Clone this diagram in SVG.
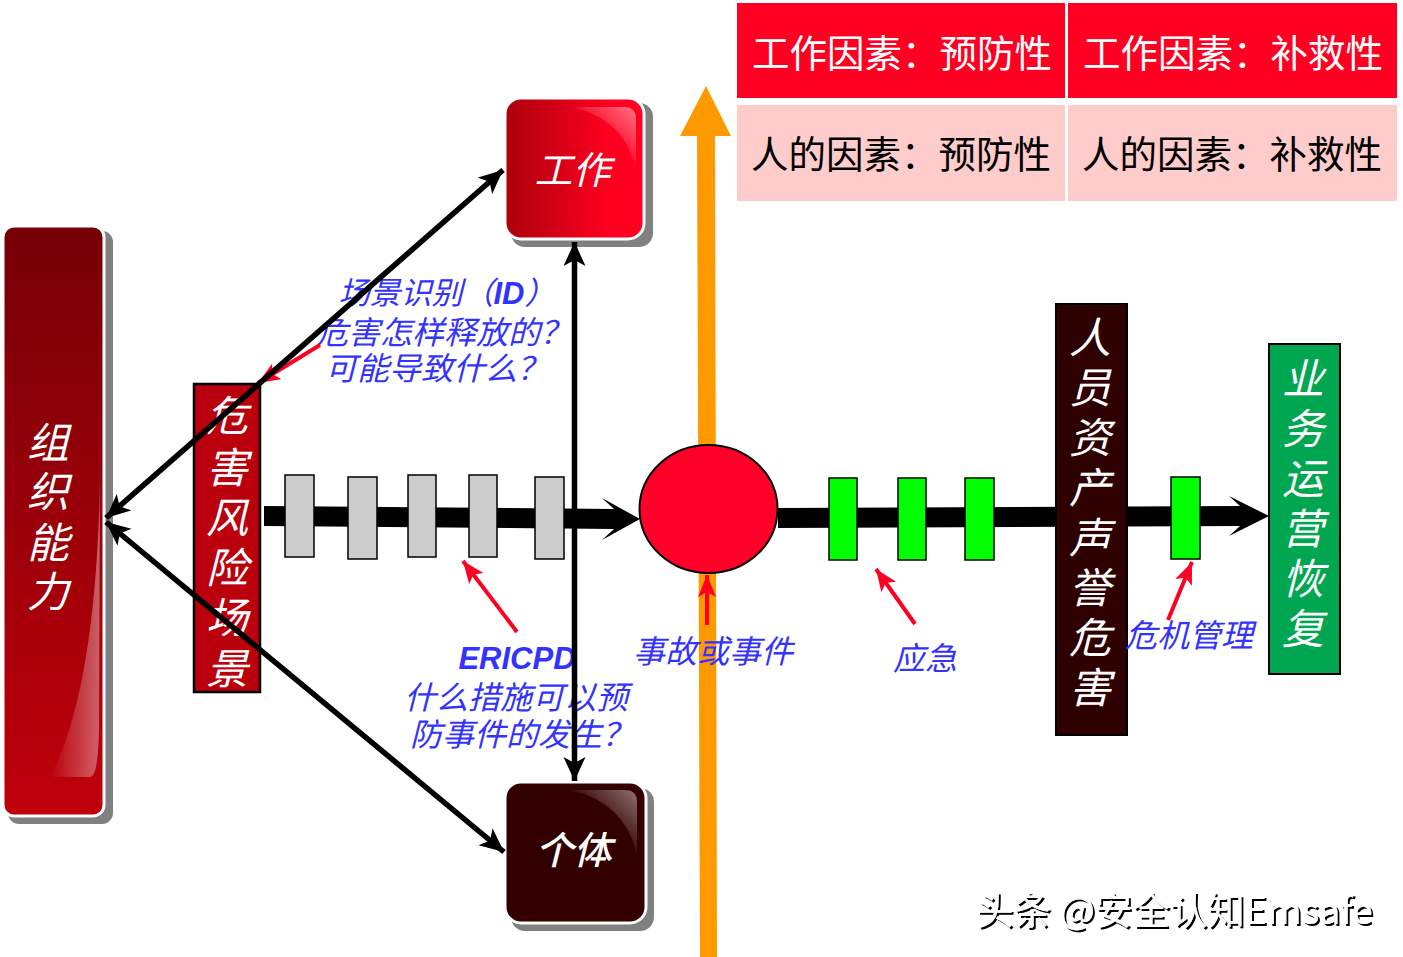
<svg xmlns="http://www.w3.org/2000/svg" width="1403" height="957" viewBox="0 0 1403 957">
<style>
text{font-family:"Noto Sans CJK SC","Noto Sans",sans-serif}
.v{fill:#fff;font-size:42px;font-style:italic;font-weight:400;text-anchor:middle}
.card{stroke:#fff;stroke-width:3}
.shadow{fill:#808080}
.gray{fill:#ccc;stroke:#000;stroke-width:1.5}
.green{fill:#0f0;stroke:#000;stroke-width:1.5}
.lab{fill:#33f;font-size:32px;font-style:italic;font-weight:400;text-anchor:middle}
.th{font-size:37.500px;font-weight:400;text-anchor:middle}
.k{stroke:#000;stroke-width:5.500;fill:none}
.r{stroke:#f02;stroke-width:4;fill:none;marker-end:url(#ra)}
</style>
<defs>
<linearGradient id="gv" x1="0" y1="0" x2="0" y2="1"><stop offset="0" stop-color="#750006"/><stop offset="1" stop-color="#c0000c"/></linearGradient>
<linearGradient id="gw" x1="0" y1="0" x2="1" y2="0"><stop offset=".05" stop-color="#b0000c"/><stop offset=".75" stop-color="#ff0020"/></linearGradient>
<linearGradient id="gs" x1="0" y1="1" x2="1" y2="0"><stop offset=".45" stop-color="#fff" stop-opacity="0"/><stop offset="1" stop-color="#fff" stop-opacity=".45"/></linearGradient>
<linearGradient id="gl" x1="0" y1="0" x2="1" y2="0"><stop offset="0" stop-color="#fff" stop-opacity="0"/><stop offset="1" stop-color="#fff" stop-opacity=".38"/></linearGradient>
<marker id="ka" markerUnits="userSpaceOnUse" markerWidth="28" markerHeight="24" refX="24" refY="11" orient="auto-start-reverse"><path d="M0,0L24,11L0,22L6,11Z" fill="#000"/></marker>
<marker id="ra" markerUnits="userSpaceOnUse" markerWidth="26" markerHeight="24" refX="22" refY="9" orient="auto"><path d="M0,0L22,9L0,18L5,9Z" fill="#f02"/></marker>
<filter id="emboss" x="-5%" y="-20%" width="110%" height="140%"><feOffset in="SourceAlpha" dx="1.500" dy="1.500" result="o"/><feFlood flood-color="#000"/><feComposite in2="o" operator="in"/><feMerge><feMergeNode/><feMergeNode in="SourceGraphic"/></feMerge></filter>
</defs>
<rect width="1403" height="957" fill="#fff"/>

<g id="connectors-back">
<polygon points="706,86 731,136 715,136 717,957 700,957 697,136 680,136" fill="#f90"/>
<polygon points="264,506 614,509 602,498 640,519 602,540 614,529 264,526" fill="#000"/>
<polygon points="778,508 1240,506 1229,496 1269,516 1229,536 1240,526 778,528" fill="#000"/>
</g>

<g id="table">
<rect x="737" y="3" width="328" height="95" fill="#ff0022"/>
<rect x="1068" y="3" width="329" height="95" fill="#ff0022"/>
<rect x="737" y="105" width="328" height="96" fill="#fcc"/>
<rect x="1068" y="105" width="329" height="96" fill="#fcc"/>
<text class="th" fill="#fff" x="902" y="67">工作因素：预防性</text>
<text class="th" fill="#fff" x="1233" y="67">工作因素：补救性</text>
<text class="th" fill="#000" x="901" y="168">人的因素：预防性</text>
<text class="th" fill="#000" x="1232" y="168">人的因素：补救性</text>
</g>

<g id="org">
<rect class="shadow" x="8" y="231" width="105" height="593" rx="11"/>
<rect class="card" x="3" y="226" width="101" height="590" rx="11" fill="url(#gv)"/>
<path d="M50,777H90Q98,777 99,730L100,480Q96,690 50,777Z" fill="url(#gl)"/>
<text class="v" x="48"><tspan x="48" y="458">组</tspan><tspan x="48" y="507">织</tspan><tspan x="48" y="558">能</tspan><tspan x="48" y="607">力</tspan></text>
</g>

<g id="scenario">
<rect x="194" y="384" width="66" height="308" fill="#bb000d" stroke="#000" stroke-width="2.500"/>
<text class="v" x="227"><tspan x="227" y="431">危</tspan><tspan x="227" y="483">害</tspan><tspan x="227" y="533">风</tspan><tspan x="227" y="583">险</tspan><tspan x="227" y="633">场</tspan><tspan x="227" y="684">景</tspan></text>
</g>

<g id="work">
<rect class="shadow" x="511" y="103" width="142" height="144" rx="14"/>
<rect class="card" x="505" y="98" width="139" height="141" rx="16" fill="url(#gw)"/>
<path d="M570,107H624Q636,107 636,119V170Q625,118 570,107Z" fill="url(#gs)"/>
<text x="572.500" y="184" fill="#fff" font-size="38" font-style="italic" font-weight="400" text-anchor="middle">工作</text>
</g>

<g id="person">
<rect class="shadow" x="511" y="788" width="143" height="143" rx="14"/>
<rect class="card" x="505" y="782" width="141" height="141" rx="16" fill="#300"/>
<path d="M570,790H625Q637,790 637,802V855Q625,802 570,790Z" fill="url(#gs)"/>
<text x="573.500" y="864" fill="#fff" font-size="38" font-style="italic" font-weight="500" text-anchor="middle">个体</text>
</g>

<g id="barriers">
<rect class="gray" x="285" y="475" width="29" height="82"/>
<rect class="gray" x="348" y="477" width="29" height="82"/>
<rect class="gray" x="408" y="475" width="28" height="82"/>
<rect class="gray" x="469" y="475" width="28" height="82"/>
<rect class="gray" x="535" y="477" width="29" height="82"/>
</g>

<g id="event"><ellipse cx="708.500" cy="509" rx="69" ry="64" fill="#ff0028" stroke="#000" stroke-width="2"/></g>

<g id="response">
<rect class="green" x="829" y="478" width="28" height="82"/>
<rect class="green" x="898" y="478" width="28" height="82"/>
<rect class="green" x="965" y="478" width="29" height="82"/>
<rect class="green" x="1171" y="477" width="29" height="82"/>
</g>

<g id="reputation">
<rect x="1056" y="304" width="71" height="431" fill="#2e0000" stroke="#000" stroke-width="2"/>
<text class="v" x="1090"><tspan x="1090" y="353">人</tspan><tspan x="1090" y="403">员</tspan><tspan x="1090" y="453">资</tspan><tspan x="1090" y="503">产</tspan><tspan x="1090" y="553">声</tspan><tspan x="1090" y="603">誉</tspan><tspan x="1090" y="653">危</tspan><tspan x="1090" y="703">害</tspan></text>
</g>

<g id="recovery">
<rect x="1269" y="344" width="71" height="330" fill="#00a650" stroke="#000" stroke-width="2"/>
<text class="v" x="1303"><tspan x="1303" y="394">业</tspan><tspan x="1303" y="444">务</tspan><tspan x="1303" y="494">运</tspan><tspan x="1303" y="544">营</tspan><tspan x="1303" y="594">恢</tspan><tspan x="1303" y="644">复</tspan></text>
</g>

<g id="labels">
<text class="lab" x="447" y="304" font-size="31" style="font-size:31px">场景识别（<tspan style="font-family:'Liberation Sans',sans-serif" font-weight="700">ID</tspan>）</text>
<text class="lab" x="444" y="344">危害怎样释放的？</text>
<text class="lab" x="437" y="380">可能导致什么？</text>
<text x="517" y="669" fill="#33f" font-size="31" font-weight="700" font-style="italic" text-anchor="middle" style="font-family:'Liberation Sans',sans-serif">ERICPD</text>
<text class="lab" x="516" y="709">什么措施可以预</text>
<text class="lab" x="522" y="746">防事件的发生？</text>
<text class="lab" x="713" y="663">事故或事件</text>
<text class="lab" x="925" y="670">应急</text>
<text class="lab" x="1189" y="647">危机管理</text>
</g>

<g id="connectors">
<path class="r" d="M320,345L258,383"/>
<path class="r" d="M517,632L463,561"/>
<path class="r" d="M707,625L707,575"/>
<path class="r" d="M915,624L876,569"/>
<path class="r" d="M1168,620L1192,562"/>
<path class="k" d="M106,518L503,170" marker-start="url(#ka)" marker-end="url(#ka)"/>
<path class="k" d="M106,522L504,852" marker-start="url(#ka)" marker-end="url(#ka)"/>
<path class="k" d="M574.500,242L574.500,781" marker-start="url(#ka)" marker-end="url(#ka)"/>
</g>

<text id="watermark" x="976" y="924" fill="#fff" font-size="37.500" filter="url(#emboss)" style="font-family:'Noto Sans CJK SC',sans-serif">头条 @安全认知Emsafe</text>
</svg>
